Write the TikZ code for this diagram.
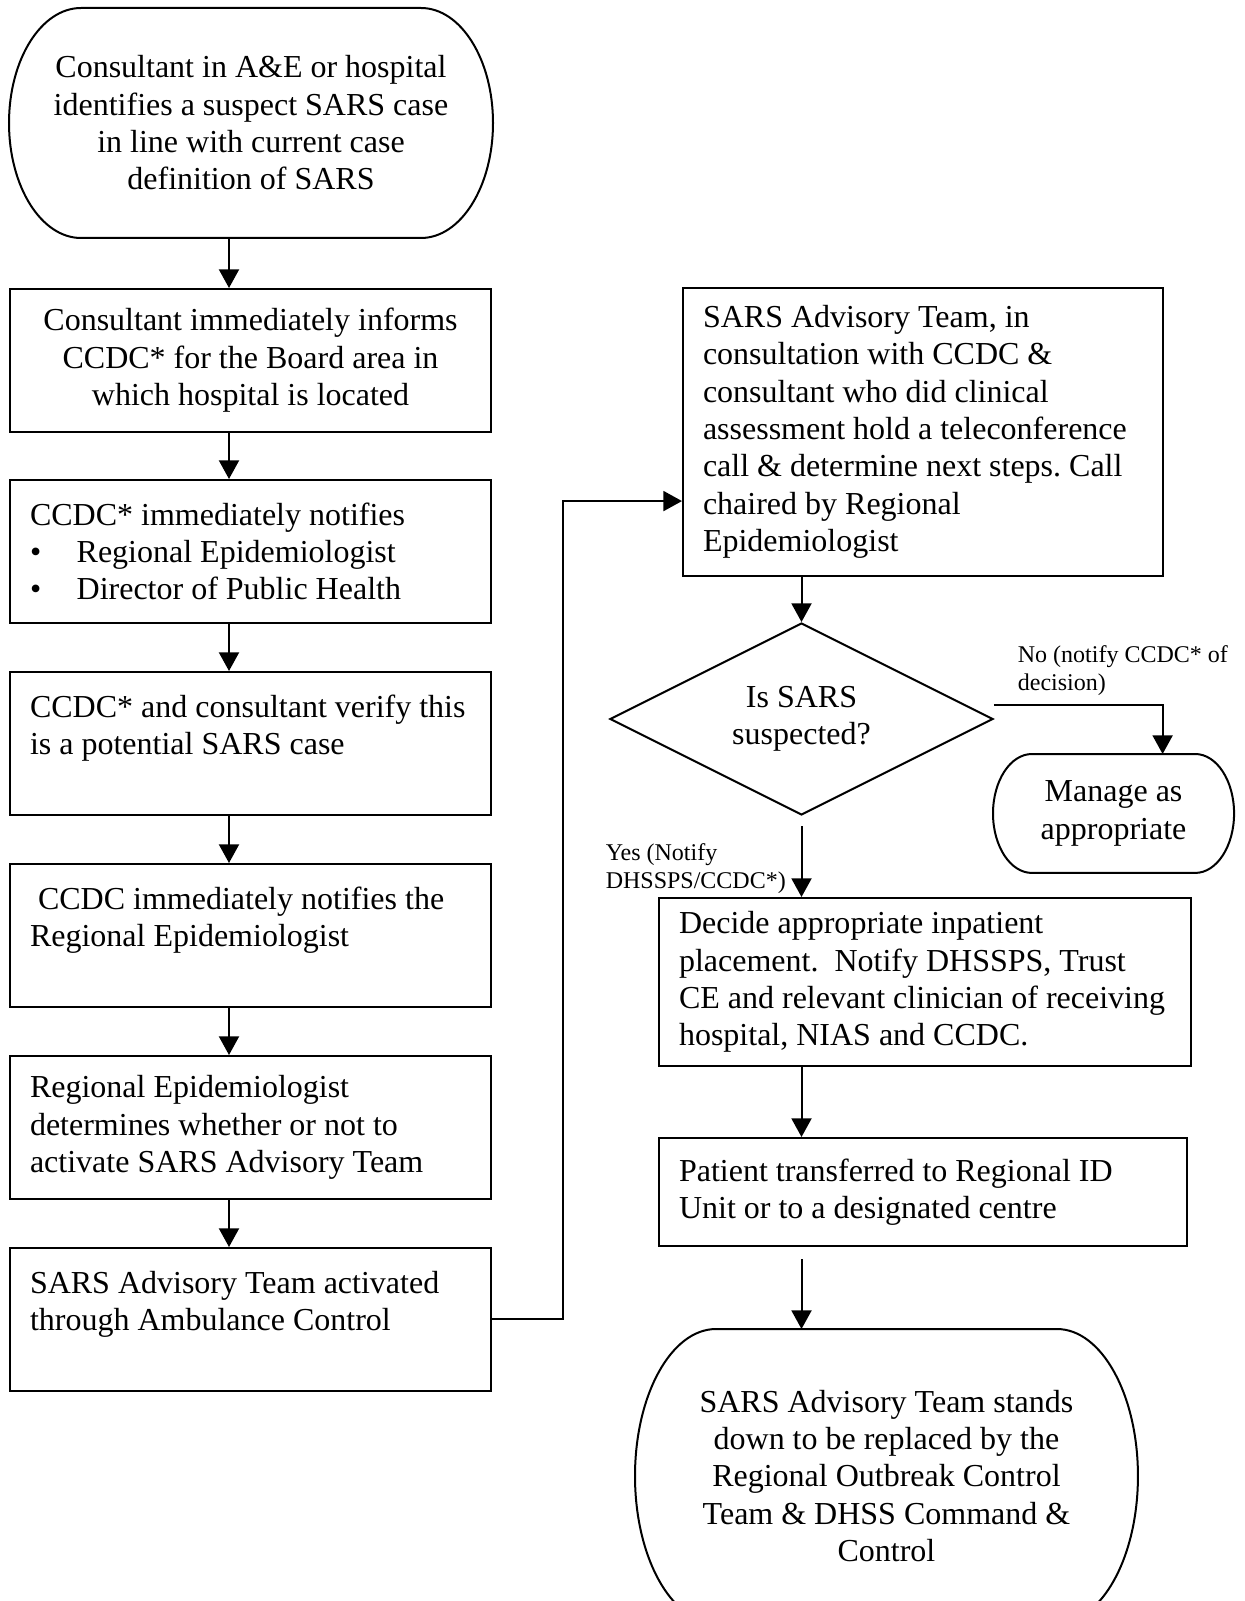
\documentclass[tikz,border=0pt]{standalone}
\usepackage{fontspec}
\setmainfont{Liberation Serif}
\usepackage{tikz}
\usetikzlibrary{arrows.meta,
                positioning,
                shapes.geometric}
\frenchspacing

% outline of a terminator: node, x radius, y radius
\newcommand{\termline}[3]{%
  \draw ([xshift=#2]#1.north west) -- ([xshift=-#2]#1.north east)
    arc[start angle=90, end angle=-90, x radius=#2, y radius=#3]
    -- ([xshift=#2]#1.south west)
    arc[start angle=270, end angle=90, x radius=#2, y radius=#3] -- cycle;}

\tikzset{
  box/.style={draw, anchor=north west, inner xsep=7.5pt, align=flush left},
  leftbox/.style={box, text width=165.4pt, minimum height=53.6pt},
  term/.style={anchor=north west, align=center, inner sep=0pt, outer sep=0pt},
  arr/.style={-{Triangle[length=7pt,width=7.5pt]}},
  lab/.style={font=\fontsize{9}{10.5}\selectfont, align=left, inner sep=1pt}
}

\begin{document}
\begin{tikzpicture}[x=0.375pt, y=-0.375pt, line width=0.75pt,
                    font=\fontsize{12}{14}\selectfont]
\useasboundingbox (0,0) rectangle (1244,1601);
\coordinate (lx) at (229,0);

% left column
\node[term, minimum width=181.5pt, minimum height=86.25pt] (suspect) at (9,8)
  {Consultant in A\&E or hospital\\ identifies a suspect SARS case\\ in line with current case\\ definition of SARS};
\termline{suspect}{27pt}{43.125pt}

\node[leftbox, align=flush center] (inform) at (9,288)
  {Consultant immediately informs\\ CCDC* for the Board area in\\ which hospital is located};
\node[leftbox] (notify) at (9,479)
  {CCDC* immediately notifies\\ \makebox[17.5pt][l]{\textbullet}Regional Epidemiologist\\ \makebox[17.5pt][l]{\textbullet}Director of Public Health};
\node[leftbox] (verify) at (9,671)
  {CCDC* and consultant verify this\\ is a potential SARS case\\ \mbox{}};
\node[leftbox] (regepi) at (9,863)
  {\hspace*{3pt}CCDC immediately notifies the\\ Regional Epidemiologist\\ \mbox{}};
\node[leftbox] (determine) at (9,1055)
  {Regional Epidemiologist\\ determines whether or not to\\ activate SARS Advisory Team};
\node[leftbox] (activate) at (9,1247)
  {SARS Advisory Team activated\\ through Ambulance Control\\ \mbox{}};

\foreach \a/\b in {suspect/inform, inform/notify, notify/verify,
                   verify/regepi, regepi/determine, determine/activate}
  \draw[arr] (\a.south -| lx) -- (\b.north -| lx);

% right column
\node[box, text width=165pt, minimum height=108pt] (team) at (682,287)
  {SARS Advisory Team, in\\ consultation with CCDC \&\\ consultant who did clinical\\ assessment hold a teleconference\\ call \& determine next steps. Call\\ chaired by Regional\\ Epidemiologist};
\node[diamond, draw, aspect=2, inner sep=0pt, align=center,
      minimum width=143.6pt, minimum height=72pt] (dia) at (801.5,719)
  {Is SARS\\ suspected?};
\node[term, minimum width=90.4pt, minimum height=44.6pt] (manage) at (993,754)
  {Manage as\\ appropriate};
\termline{manage}{14.6pt}{22.3pt}
\node[box, text width=184.5pt, minimum height=63pt] (place) at (658,897)
  {Decide appropriate inpatient\\ placement.\ \ Notify DHSSPS, Trust\\ CE and relevant clinician of receiving\\ hospital, NIAS and CCDC.};
\node[box, text width=183pt, minimum height=40.5pt] (transfer) at (658,1137)
  {Patient transferred to Regional ID\\ Unit or to a designated centre};
\node[term, minimum width=188.6pt, minimum height=110.25pt] (standdown) at (635,1329)
  {SARS Advisory Team stands\\ down to be replaced by the\\ Regional Outbreak Control\\ Team \& DHSS Command \&\\ Control};
\termline{standdown}{30.4pt}{55.125pt}

\draw[arr] (activate.east) -- ++(71,0) |- ([yshift=-25.9pt]team.west);
\draw[arr] (team.south -| dia.north) -- (dia.north);
\draw[arr] ([yshift=5.25pt]dia.east) -| node[lab, anchor=south west, pos=0.06, yshift=2pt] (nolab)
  {No (notify CCDC* of\\ decision)} ([xshift=18.4pt]manage.north);
\draw[arr, shorten <=3.75pt] (dia.south) -- node[lab, left=4.5pt, pos=0.65] (yeslab)
  {Yes (Notify\\ DHSSPS/CCDC*)} (place.north -| dia.south);
\draw[arr] (place.south -| dia.south) -- (transfer.north -| dia.south);
\draw[arr, shorten <=4.5pt] (transfer.south -| dia.south) -- (standdown.north -| dia.south);
\end{tikzpicture}
\end{document}
